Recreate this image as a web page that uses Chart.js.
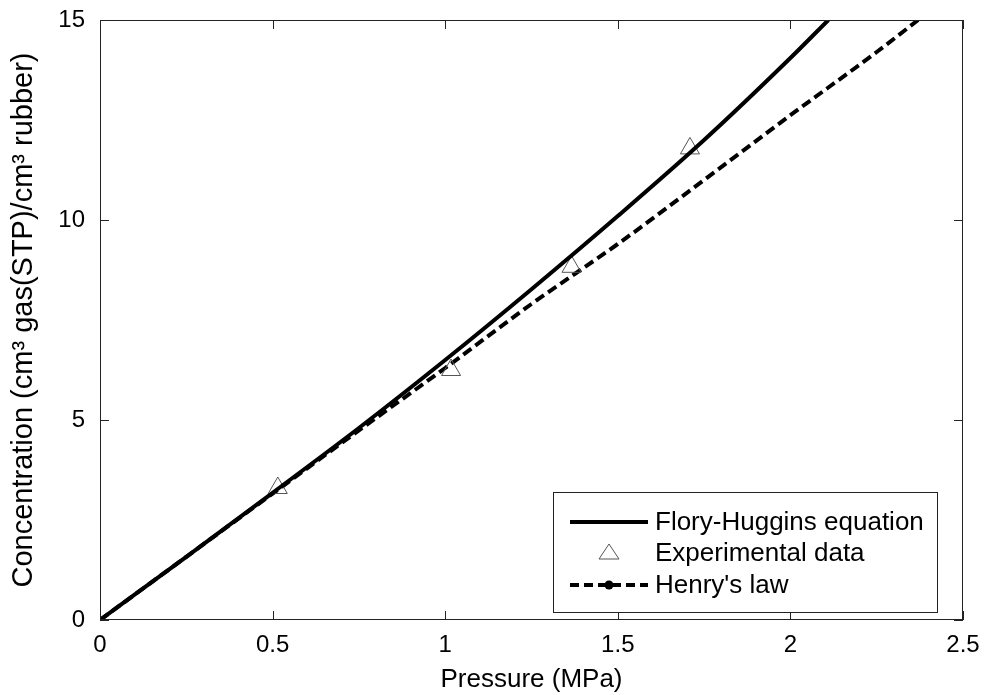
<!DOCTYPE html>
<html>
<head>
<meta charset="utf-8">
<script src="https://cdn.jsdelivr.net/npm/chart.js@4.4.1/dist/chart.umd.min.js"></script>
<style>
  html, body { margin: 0; padding: 0; background: #fff; }
</style>
</head>
<body>
<canvas id="sorptionChart" width="987" height="695"></canvas>
<script>
// values: pressure in MPa, concentration in cm3(STP)/cm3
const floryPressure = [0, 0.25, 0.5, 0.75, 1.0, 1.25, 1.5, 1.75, 2.0, 2.11];
const floryConc = [0, 1.58, 3.18, 4.8, 6.5, 8.27, 10.1, 12.0, 14.05, 15];

const expPressure = [0.515, 1.017, 1.366, 1.709];
const expConc = [3.3, 6.25, 8.83, 11.79];

const henryPressure = [0, 0.25, 0.5, 0.75, 1.0, 1.25, 1.5, 1.75, 2.0, 2.25, 2.37];
const henryConc = [0, 1.58, 3.16, 4.74, 6.3, 7.9, 9.4, 11.0, 12.62, 14.2, 15];

const xTicks = [0, 0.5, 1, 1.5, 2, 2.5];
const yTicks = [0, 5, 10, 15];

const legendLabels = ["Flory-Huggins equation", "Experimental data", "Henry's law"];

const FONT = "'Liberation Sans', Arial, Helvetica, sans-serif";
Chart.defaults.font.family = FONT;
Chart.defaults.color = "#000";

function toPoints(xs, ys) {
    return xs.map((x, i) => ({ x: x, y: ys[i] }));
}

// box and inward ticks on all four sides, like a matlab axes
const framePlugin = {
    id: "frame",
    afterDatasetsDraw(chart) {
        const { ctx, chartArea: a, scales } = chart;
        const len = 9;
        ctx.save();
        ctx.strokeStyle = "#222";
        ctx.lineWidth = 1;
        ctx.strokeRect(a.left + 0.5, a.top + 0.5, a.width - 1, a.height - 1);
        ctx.beginPath();
        xTicks.forEach(v => {
            const x = Math.round(scales.x.getPixelForValue(v)) + 0.5;
            ctx.moveTo(x, a.bottom); ctx.lineTo(x, a.bottom - len);
            ctx.moveTo(x, a.top); ctx.lineTo(x, a.top + len);
        });
        yTicks.forEach(v => {
            const y = Math.round(scales.y.getPixelForValue(v)) + 0.5;
            ctx.moveTo(a.left, y); ctx.lineTo(a.left + len, y);
            ctx.moveTo(a.right, y); ctx.lineTo(a.right - len, y);
        });
        ctx.stroke();
        ctx.restore();
    }
};

// legend box inside the plot, lower right
const legendPlugin = {
    id: "insideLegend",
    afterDraw(chart) {
        const { ctx, chartArea: a } = chart;
        const w = 384, h = 120;
        const left = a.right - 26 - w;
        const top = a.bottom - 8 - h;
        const rows = [30, 61, 93];
        const sx0 = left + 17, sx1 = left + 95, sxm = (sx0 + sx1) / 2;
        ctx.save();
        ctx.fillStyle = "#fff";
        ctx.fillRect(left, top, w, h);
        ctx.strokeStyle = "#222";
        ctx.lineWidth = 1;
        ctx.strokeRect(left + 0.5, top + 0.5, w, h);

        // solid line sample
        ctx.strokeStyle = "#000";
        ctx.lineWidth = 4;
        ctx.beginPath();
        ctx.moveTo(sx0, top + rows[0]); ctx.lineTo(sx1, top + rows[0]);
        ctx.stroke();

        // triangle sample
        const ty = top + rows[1];
        ctx.strokeStyle = "#555";
        ctx.lineWidth = 1;
        ctx.beginPath();
        ctx.moveTo(sxm, ty - 9); ctx.lineTo(sxm + 10, ty + 6); ctx.lineTo(sxm - 10, ty + 6);
        ctx.closePath();
        ctx.stroke();

        // dashed sample with dot marker
        ctx.strokeStyle = "#000";
        ctx.lineWidth = 4;
        ctx.setLineDash([9, 5]);
        ctx.beginPath();
        ctx.moveTo(sx0, top + rows[2]); ctx.lineTo(sx1, top + rows[2]);
        ctx.stroke();
        ctx.setLineDash([]);
        ctx.fillStyle = "#000";
        ctx.beginPath();
        ctx.arc(sxm, top + rows[2], 4.5, 0, Math.PI * 2);
        ctx.fill();

        ctx.fillStyle = "#000";
        ctx.font = "26px " + FONT;
        ctx.textBaseline = "middle";
        ctx.textAlign = "left";
        legendLabels.forEach((t, i) => ctx.fillText(t, left + 102, top + rows[i] + 1));
        ctx.restore();
    }
};

const ctx = document.getElementById("sorptionChart").getContext("2d");

new Chart(ctx, {
    type: "scatter",
    data: {
        datasets: [
            {
                label: legendLabels[0],
                data: toPoints(floryPressure, floryConc),
                showLine: true,
                borderColor: "#000",
                borderWidth: 4,
                pointRadius: 0,
                cubicInterpolationMode: "monotone",
            },
            {
                label: legendLabels[1],
                data: toPoints(expPressure, expConc),
                showLine: false,
                pointStyle: "triangle",
                pointRadius: 11,
                borderColor: "#555",
                borderWidth: 1,
                backgroundColor: "rgba(0,0,0,0)",
            },
            {
                label: legendLabels[2],
                data: toPoints(henryPressure, henryConc),
                showLine: true,
                borderColor: "#000",
                borderWidth: 4,
                borderDash: [10, 5],
                pointRadius: 0,
                cubicInterpolationMode: "monotone",
            },
        ],
    },
    options: {
        responsive: false,
        animation: false,
        layout: { padding: { top: 20, right: 24, left: 0, bottom: 0 } },
        plugins: {
            legend: { display: false },
            tooltip: { enabled: false },
        },
        scales: {
            x: {
                type: "linear",
                min: 0,
                max: 2.5,
                afterBuildTicks: (s) => { s.ticks = xTicks.map(v => ({ value: v })); },
                afterFit: (s) => { s.height = 75; s.paddingLeft = 0; s.paddingRight = 0; },
                grid: { display: false, drawTicks: false },
                border: { display: false },
                ticks: {
                    padding: 11,
                    maxRotation: 0,
                    font: { size: 24 },
                    color: "#000",
                    callback: (v) => String(v),
                },
                title: {
                    display: true,
                    text: "Pressure (MPa)",
                    font: { size: 26 },
                    color: "#000",
                    padding: { top: 0, bottom: 0 },
                },
            },
            y: {
                type: "linear",
                min: 0,
                max: 15,
                afterBuildTicks: (s) => { s.ticks = yTicks.map(v => ({ value: v })); },
                afterFit: (s) => { s.width = 100; s.paddingTop = 0; s.paddingBottom = 0; },
                grid: { display: false, drawTicks: false },
                border: { display: false },
                ticks: {
                    padding: 15,
                    font: { size: 24 },
                    color: "#000",
                    callback: (v) => String(v),
                },
                title: {
                    display: true,
                    text: "Concentration (cm\u00B3 gas(STP)/cm\u00B3 rubber)",
                    font: { size: 29 },
                    color: "#000",
                    padding: { top: 7, bottom: 0 },
                },
            },
        },
    },
    plugins: [framePlugin, legendPlugin],
});
</script>
</body>
</html>
